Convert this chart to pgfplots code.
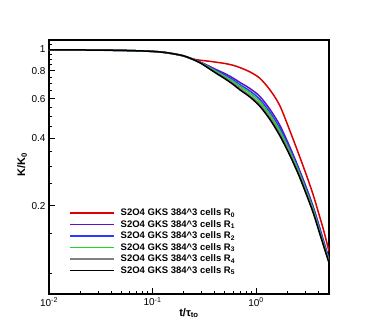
\documentclass[border=0pt]{standalone}
\usepackage{fontspec}
\setmainfont{Liberation Sans}
\usepackage{pgfplots}
\pgfplotsset{compat=1.18}

\definecolor{rzero}{RGB}{220,0,0}
\definecolor{rone}{RGB}{90,20,200}
\definecolor{rtwo}{RGB}{40,60,255}
\definecolor{rthree}{RGB}{30,215,30}
\definecolor{rfour}{RGB}{128,128,128}
\definecolor{rfive}{RGB}{0,0,0}

\begin{document}
\begin{tikzpicture}[x=1pt,y=1pt]
\useasboundingbox (0,0) rectangle (374,332);
\begin{axis}[
  at={(49pt,38pt)}, anchor=south west,
  width=280pt, height=254pt, scale only axis,
  xmode=log, ymode=log,
  xmin=0.01, xmax=5.07, ymin=0.0806, ymax=1.097,
  axis line style={line width=1.3pt},
  tick align=inside, xtick pos=bottom, ytick pos=left,
  major tick length=6pt, minor tick length=3pt,
  tick style={line width=0.9pt, black},
  xtick={0.01,0.1,1},
  xticklabels={10\textsuperscript{-2},10\textsuperscript{-1},10\textsuperscript{0}},
  minor xtick={0.02,0.03,0.04,0.05,0.06,0.07,0.08,0.09,0.2,0.3,0.4,0.5,0.6,0.7,0.8,0.9,2,3,4,5},
  ytick={0.2,0.4,0.6,0.8,1},
  yticklabels={0.2,0.4,0.6,0.8,1},
  minor ytick={0.1,0.15,0.25,0.3,0.35,0.45,0.5,0.55,0.65,0.7,0.75,0.85,0.9,0.95,1.05},
  ticklabel style={font=\fontsize{10}{12}\selectfont},
  xlabel={\textbf{t/τ\textsubscript{to}}},
  ylabel={\textbf{K/K\textsubscript{0}}},
  label style={font=\fontsize{11}{13}\selectfont},
  xlabel style={at={(axis description cs:0.5,-0.075)}, anchor=center},
  ylabel style={at={(axis description cs:-0.096,0.51)}, anchor=center},
  legend image code/.code={\draw[#1] (0pt,0pt) -- (44pt,0pt);},
  legend cell align=left,
  legend style={at={(axis description cs:0.0714,0.345)}, anchor=north west,
    draw=none, fill=none, inner sep=0pt, row sep=-0.8pt, column sep=4pt,
    font=\bfseries\fontsize{9.5}{11}\selectfont},
  every axis plot/.append style={line width=1.5pt},
]
\addplot[rzero, smooth] coordinates {
(0.01,0.990) (0.02,0.990) (0.03,0.988) (0.05,0.985) (0.07,0.981) (0.1,0.975)
(0.13,0.964) (0.16,0.950) (0.2,0.930) (0.23,0.912) (0.26,0.898) (0.3,0.889)
(0.36,0.881) (0.42,0.872) (0.5,0.862) (0.6,0.846) (0.7,0.826) (0.875,0.790)
(1.09,0.740) (1.37,0.655) (1.7,0.558) (2.13,0.430) (2.6,0.337) (3.09,0.271)
(3.58,0.222) (4.0,0.187) (4.5,0.155) (5.07,0.125)};
\addlegendentry{S2O4 GKS 384\^{}3 cells R\textsubscript{0}}
\addplot[rone, smooth] coordinates {
(0.01,0.990) (0.02,0.990) (0.03,0.989) (0.05,0.986) (0.07,0.982) (0.1,0.976)
(0.13,0.966) (0.16,0.952) (0.2,0.932) (0.23,0.910) (0.26,0.892) (0.3,0.868)
(0.36,0.835) (0.42,0.806) (0.5,0.777) (0.6,0.742) (0.7,0.709) (0.875,0.666)
(1.09,0.614) (1.37,0.536) (1.7,0.456) (2.13,0.364) (2.6,0.292) (3.09,0.238)
(3.58,0.197) (4.0,0.167) (4.5,0.139) (5.07,0.116)};
\addlegendentry{S2O4 GKS 384\^{}3 cells R\textsubscript{1}}
\addplot[rtwo, smooth] coordinates {
(0.01,0.990) (0.02,0.990) (0.03,0.989) (0.05,0.986) (0.07,0.982) (0.1,0.976)
(0.13,0.966) (0.16,0.952) (0.2,0.932) (0.23,0.910) (0.26,0.891) (0.3,0.865)
(0.36,0.828) (0.42,0.797) (0.5,0.765) (0.6,0.728) (0.7,0.693) (0.875,0.649)
(1.09,0.596) (1.37,0.520) (1.7,0.442) (2.13,0.355) (2.6,0.286) (3.09,0.233)
(3.58,0.193) (4.0,0.164) (4.5,0.137) (5.07,0.114)};
\addlegendentry{S2O4 GKS 384\^{}3 cells R\textsubscript{2}}
\addplot[rthree, smooth] coordinates {
(0.01,0.990) (0.02,0.990) (0.03,0.989) (0.05,0.986) (0.07,0.982) (0.1,0.976)
(0.13,0.966) (0.16,0.952) (0.2,0.932) (0.23,0.910) (0.26,0.890) (0.3,0.863)
(0.36,0.823) (0.42,0.790) (0.5,0.755) (0.6,0.717) (0.7,0.681) (0.875,0.636)
(1.09,0.582) (1.37,0.507) (1.7,0.431) (2.13,0.348) (2.6,0.282) (3.09,0.229)
(3.58,0.191) (4.0,0.161) (4.5,0.135) (5.07,0.113)};
\addlegendentry{S2O4 GKS 384\^{}3 cells R\textsubscript{3}}
\addplot[rfour, smooth] coordinates {
(0.01,0.990) (0.02,0.990) (0.03,0.989) (0.05,0.986) (0.07,0.982) (0.1,0.976)
(0.13,0.966) (0.16,0.952) (0.2,0.932) (0.23,0.910) (0.26,0.889) (0.3,0.860)
(0.36,0.817) (0.42,0.781) (0.5,0.745) (0.6,0.705) (0.7,0.668) (0.875,0.621)
(1.09,0.567) (1.37,0.494) (1.7,0.419) (2.13,0.340) (2.6,0.276) (3.09,0.225)
(3.58,0.187) (4.0,0.159) (4.5,0.133) (5.07,0.112)};
\addlegendentry{S2O4 GKS 384\^{}3 cells R\textsubscript{4}}
\addplot[rfive, smooth] coordinates {
(0.01,0.990) (0.02,0.990) (0.03,0.989) (0.05,0.986) (0.07,0.982) (0.1,0.976)
(0.13,0.966) (0.16,0.952) (0.2,0.932) (0.23,0.910) (0.26,0.888) (0.3,0.858)
(0.36,0.812) (0.42,0.775) (0.5,0.737) (0.6,0.695) (0.7,0.657) (0.875,0.610)
(1.09,0.555) (1.37,0.483) (1.7,0.410) (2.13,0.334) (2.6,0.272) (3.09,0.222)
(3.58,0.185) (4.0,0.157) (4.5,0.132) (5.07,0.111)};
\addlegendentry{S2O4 GKS 384\^{}3 cells R\textsubscript{5}}
\end{axis}
\end{tikzpicture}
\end{document}
